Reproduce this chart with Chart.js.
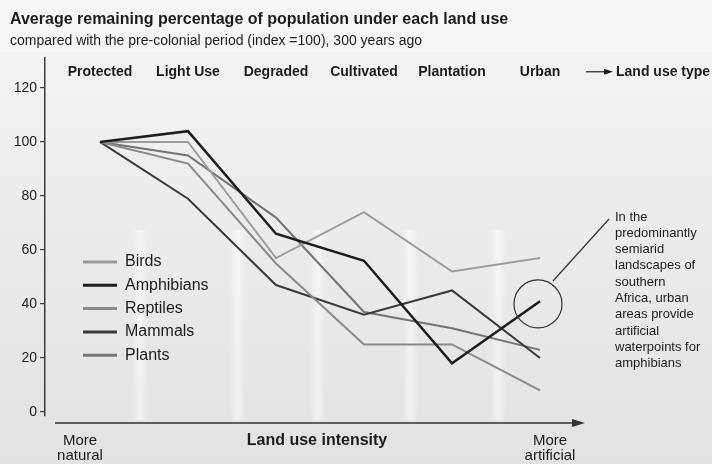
<!DOCTYPE html>
<html>
<head>
<meta charset="utf-8">
<script src="https://cdn.jsdelivr.net/npm/chart.js@4/dist/chart.umd.min.js"></script>
<style>
  html,body{margin:0;padding:0;background:#f4f4f4;}
  #wrap{position:relative;width:712px;height:464px;}
</style>
</head>
<body>
<div id="wrap"><canvas id="c" width="712" height="464"></canvas></div>
<script>
// ---- Data ----
const categories = ['Protected', 'Light Use', 'Degraded', 'Cultivated', 'Plantation', 'Urban'];
const birds      = [100, 100, 57, 74, 52, 57];
const amphibians = [100, 104, 66, 56, 18, 41];
const reptiles   = [100, 92, 55, 25, 25, 8];
const mammals    = [100, 79, 47, 36, 45, 20];
const plants     = [100, 95, 72, 37, 31, 23];
const yTicks     = [0, 20, 40, 60, 80, 100, 120];
const seriesNames = ['Birds', 'Amphibians', 'Reptiles', 'Mammals', 'Plants'];
const noteLines = ['In the', 'predominantly', 'semiarid', 'landscapes of', 'southern',
  'Africa, urban', 'areas provide', 'artificial', 'waterpoints for', 'amphibians'];

const FONT = '"Liberation Sans", Arial, Helvetica, sans-serif';
const colors = ['#9c9c9c', '#1e1e1e', '#8a8a8a', '#3a3a3a', '#747474'];
const widths = [2, 2.5, 2, 2, 2];
const allSeries = [birds, amphibians, reptiles, mammals, plants];

const datasets = allSeries.map((arr, k) => ({
  label: seriesNames[k],
  data: arr.map((v, i) => ({x: i, y: v})),
  borderColor: colors[k],
  backgroundColor: colors[k],
  borderWidth: widths[k],
  pointRadius: 0,
  tension: 0,
  fill: false
}));
// draw amphibians on top
datasets.forEach((d, k) => { d.order = (k === 1) ? 0 : 1; });

const decor = {
  id: 'decor',
  beforeDraw(chart) {
    const ctx = chart.ctx;
    ctx.save();
    const g = ctx.createLinearGradient(0, 50, 0, 464);
    g.addColorStop(0, '#f3f3f3');
    g.addColorStop(1, '#e2e2e2');
    ctx.fillStyle = '#f6f6f6';
    ctx.fillRect(0, 0, chart.width, chart.height);
    ctx.fillStyle = g;
    ctx.fillRect(0, 52, chart.width, chart.height - 52);
    // faint light streaks
    const streaks = [140, 238, 318, 410, 498];
    streaks.forEach(x => {
      const sg = ctx.createLinearGradient(x - 8, 0, x + 8, 0);
      sg.addColorStop(0, 'rgba(255,255,255,0)');
      sg.addColorStop(0.5, 'rgba(255,255,255,0.55)');
      sg.addColorStop(1, 'rgba(255,255,255,0)');
      ctx.fillStyle = sg;
      ctx.fillRect(x - 8, 230, 16, 190);
    });
    ctx.restore();
  },
  afterDraw(chart) {
    const ctx = chart.ctx;
    const xs = chart.scales.x, ys = chart.scales.y;
    ctx.save();
    ctx.fillStyle = '#1c1c1c';
    ctx.textBaseline = 'alphabetic';
    ctx.textAlign = 'left';
    ctx.font = 'bold 16px ' + FONT;
    ctx.fillText('Average remaining percentage of population under each land use', 10, 24);
    ctx.font = '14px ' + FONT;
    ctx.fillText('compared with the pre-colonial period (index =100), 300 years ago', 10, 45);

    // category labels at top
    ctx.font = 'bold 14px ' + FONT;
    ctx.textAlign = 'center';
    ctx.textBaseline = 'middle';
    const yCat = ys.getPixelForValue(126);
    categories.forEach((c, i) => ctx.fillText(c, xs.getPixelForValue(i), yCat));
    // land use type arrow
    ctx.strokeStyle = '#222';
    ctx.lineWidth = 1.2;
    ctx.beginPath(); ctx.moveTo(586, yCat); ctx.lineTo(606, yCat); ctx.stroke();
    ctx.beginPath(); ctx.moveTo(613, yCat); ctx.lineTo(604, yCat - 3); ctx.lineTo(604, yCat + 3); ctx.closePath(); ctx.fill();
    ctx.textAlign = 'left';
    ctx.fillText('Land use type', 616, yCat);

    // x axis arrow
    const yAx = ys.getPixelForValue(0) + 11;
    ctx.strokeStyle = '#333';
    ctx.lineWidth = 1.5;
    ctx.beginPath(); ctx.moveTo(55, yAx); ctx.lineTo(576, yAx); ctx.stroke();
    ctx.fillStyle = '#333';
    ctx.beginPath(); ctx.moveTo(585, yAx); ctx.lineTo(572, yAx - 4); ctx.lineTo(572, yAx + 4); ctx.closePath(); ctx.fill();

    ctx.fillStyle = '#1c1c1c';
    ctx.textAlign = 'center';
    ctx.font = '15px ' + FONT;
    ctx.fillText('More', 80, 441);
    ctx.fillText('natural', 80, 456);
    ctx.fillText('More', 550, 441);
    ctx.fillText('artificial', 550, 456);
    ctx.font = 'bold 16px ' + FONT;
    ctx.fillText('Land use intensity', 317, 441);

    // legend
    ctx.textAlign = 'left';
    ctx.font = '16px ' + FONT;
    seriesNames.forEach((n, k) => {
      const y = 262 + k * 23.3;
      ctx.strokeStyle = colors[k];
      ctx.lineWidth = 3;
      ctx.beginPath(); ctx.moveTo(83, y); ctx.lineTo(117, y); ctx.stroke();
      ctx.fillStyle = '#1c1c1c';
      ctx.fillText(n, 125, y);
    });

    // annotation
    const cx = xs.getPixelForValue(5) - 2, cy = ys.getPixelForValue(40);
    ctx.strokeStyle = '#333';
    ctx.lineWidth = 1.2;
    ctx.beginPath(); ctx.arc(cx, cy, 24, 0, Math.PI * 2); ctx.stroke();
    ctx.beginPath(); ctx.moveTo(553, 281); ctx.lineTo(609, 219); ctx.stroke();
    ctx.font = '13px ' + FONT;
    ctx.fillStyle = '#1c1c1c';
    noteLines.forEach((t, i) => ctx.fillText(t, 615, 217 + i * 16.3));
    ctx.restore();
  }
};

new Chart(document.getElementById('c'), {
  type: 'line',
  data: { datasets },
  options: {
    responsive: false,
    animation: false,
    devicePixelRatio: 1,
    layout: { padding: { left: 0, right: 132, top: 58, bottom: 48 } },
    plugins: { legend: { display: false }, tooltip: { enabled: false } },
    scales: {
      x: {
        type: 'linear', min: -0.625, max: 5.4545, display: false
      },
      y: {
        type: 'linear', min: -1.5, max: 131.1,
        afterBuildTicks: (s) => { s.ticks = yTicks.map(v => ({value: v})); },
        afterFit: (s) => { s.width = 45; },
        border: { display: true, color: '#3a3a3a', width: 1.5 },
        grid: { drawOnChartArea: false, drawTicks: true, tickLength: 5, color: '#3a3a3a', lineWidth: 1.2 },
        ticks: { color: '#1c1c1c', font: { family: FONT, size: 14 }, padding: 3 }
      }
    }
  },
  plugins: [decor]
});
</script>
</body>
</html>
